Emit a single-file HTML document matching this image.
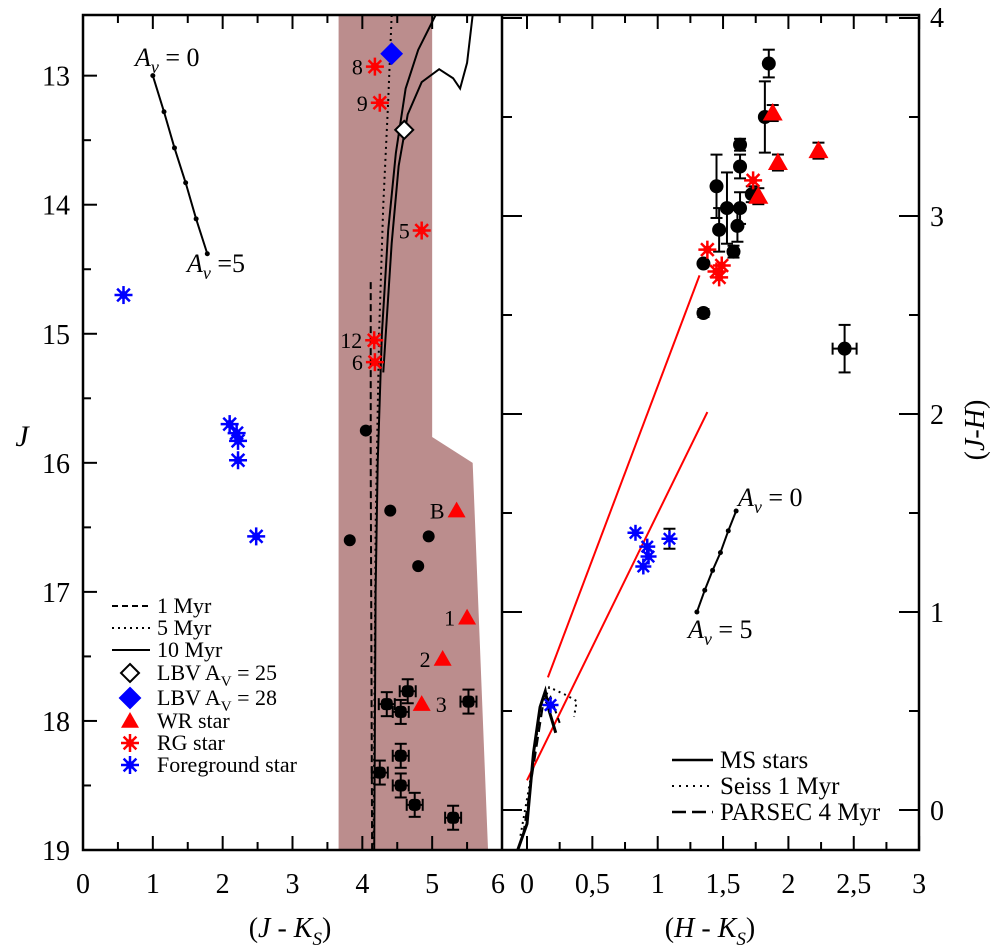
<!DOCTYPE html>
<html><head><meta charset="utf-8"><style>
body{margin:0;background:#fff}
svg{display:block;font-family:"Liberation Serif",serif}
</style></head><body>
<svg id="c" width="999" height="952" viewBox="0 0 999 952" xmlns="http://www.w3.org/2000/svg"></svg>
<script>
// Left panel data (J-Ks, J)
const fgL = [[0.58,14.7],[2.1,15.7],[2.2,15.77],[2.22,15.83],[2.22,15.98],[2.48,16.57]];
const rgL = [[4.18,12.93],[4.25,13.21],[4.85,14.2],[4.17,15.05],[4.18,15.22]];
const rgLabels = ["8","9","5","12","6"];
const wrL = [[5.35,16.37],[5.5,17.2],[5.15,17.52],[4.85,17.87]];
const wrLabels = ["B","1","2","3"];
const dotsL = [[4.05,15.75],[3.82,16.6],[4.4,16.37],[4.95,16.57],[4.8,16.8]];
const errL = [[4.65,17.77],[4.35,17.87],[4.55,17.93],[5.52,17.85],[4.55,18.27],[4.25,18.4],[4.55,18.5],[4.75,18.65],[5.3,18.75]];
const iso1 = [[4.12,14.6],[4.12,16],[4.13,17.5],[4.14,19]];
const iso5 = [[4.42,12.53],[4.37,13.2],[4.3,14],[4.24,15],[4.19,16.5],[4.16,19]];
const iso10a = [[4.17,19],[4.19,17],[4.22,16],[4.28,15],[4.37,14.2],[4.48,13.6],[4.62,13.1],[4.8,12.8],[5.05,12.53]];
const iso10b = [[4.3,15.3],[4.42,14.3],[4.52,13.7],[4.65,13.3],[4.85,13.05],[5.1,12.95],[5.3,13.02],[5.4,13.1],[5.5,12.9],[5.58,12.53]];
const avL = [[1.0,13.0],[1.16,13.28],[1.31,13.56],[1.47,13.83],[1.62,14.11],[1.78,14.38]];
// Right panel data (H-Ks, J-H)
const dotsR = [[1.85,3.77,0.07],[1.82,3.50,0.18],[1.63,3.36,0.03],[1.63,3.25,0.06],[1.45,3.15,0.16],[1.53,3.04,0.18],[1.63,3.04,0.08],[1.61,2.95,0.08],[1.47,2.93,0.11],[1.58,2.82,0.03],[1.35,2.76,0],[1.35,2.51,0.02],[2.43,2.33,0.12],[1.72,3.11,0.04]];
const wrR = [[1.88,3.52],[1.92,3.27],[2.23,3.33],[1.77,3.10]];
const rgR = [[1.73,3.18],[1.38,2.83],[1.45,2.72],[1.49,2.75],[1.47,2.69]];
const fgR = [[0.83,1.40],[0.92,1.33],[0.93,1.28],[0.89,1.23],[1.09,1.37],[0.18,0.53]];
const redLines = [[[0.16,0.67],[1.32,2.70]],[[0.0,0.15],[1.38,2.01]]];
const msLine = [[-0.07,-0.20],[0.0,-0.07],[0.05,0.29],[0.1,0.52],[0.14,0.60],[0.17,0.50],[0.22,0.39]];
const seissLine = [[-0.05,-0.13],[0.02,0.13],[0.1,0.49],[0.17,0.62],[0.3,0.58],[0.38,0.55],[0.36,0.47]];
const parsecLine = [[-0.03,-0.13],[0.04,0.18],[0.12,0.52],[0.18,0.57],[0.25,0.44]];
const avR = [[1.6,1.51],[1.54,1.41],[1.48,1.30],[1.42,1.21],[1.36,1.11],[1.3,1.00]];
const xTicksL = ["0","1","2","3","4","5","6"];
const yTicksL = ["13","14","15","16","17","18","19"];
const xTicksR = ["0","0,5","1","1,5","2","2,5","3"];
const yTicksR = ["0","1","2","3","4"];

const svg = document.getElementById('c');
const NS = "http://www.w3.org/2000/svg";
const L0=83,L1=502,R1=919,T=15,B=850;
const xL = v => L0 + v*(L1-L0)/6;
const yL = v => B - (19-v)*(B-T)/(19-12.53);
const xR = v => 527 + v*130.7;
const yR = v => 810 - v*198;
function el(tag, attrs, parent){const e=document.createElementNS(NS,tag);for(const k in attrs)e.setAttribute(k,attrs[k]);(parent||svg).appendChild(e);return e;}
function txt(x,y,s,size,extra){const t=el('text',Object.assign({x:x,y:y,'font-size':size||26},extra||{}));t.textContent=s;return t;}
function pl(pts,fx,fy,attrs){return el('polyline',Object.assign({points:pts.map(p=>fx(p[0])+','+fy(p[1])).join(' '),fill:'none',stroke:'#000','stroke-width':2},attrs));}
function star(x,y,col,r){const g=el('g',{});for(let i=0;i<4;i++){const a=i*Math.PI/4;el('line',{x1:x-r*Math.cos(a),y1:y-r*Math.sin(a),x2:x+r*Math.cos(a),y2:y+r*Math.sin(a),stroke:col,'stroke-width':2.5},g);}el('circle',{cx:x,cy:y,r:r*0.45,fill:col},g);return g;}
function tri(x,y,r){return el('polygon',{points:`${x},${y-r} ${x-r},${y+r*0.75} ${x+r},${y+r*0.75}`,fill:'#ff0000'});}
function diamond(x,y,r,fill){return el('polygon',{points:`${x},${y-r} ${x+r},${y} ${x},${y+r} ${x-r},${y}`,fill:fill,stroke:fill=='#fff'?'#000':fill,'stroke-width':2});}
function ebar(x,y,dx,dy){const g=el('g',{stroke:'#000','stroke-width':2});if(dy>0){el('line',{x1:x,y1:y-dy,x2:x,y2:y+dy},g);el('line',{x1:x-6,y1:y-dy,x2:x+6,y2:y-dy},g);el('line',{x1:x-6,y1:y+dy,x2:x+6,y2:y+dy},g);}if(dx>0){el('line',{x1:x-dx,y1:y,x2:x+dx,y2:y},g);el('line',{x1:x-dx,y1:y-6,x2:x-dx,y2:y+6},g);el('line',{x1:x+dx,y1:y-6,x2:x+dx,y2:y+6},g);}return g;}

const shade = el('polygon',{points:`${xL(3.66)},${T} ${xL(5.0)},${T} ${xL(5.0)},${yL(15.8)} ${xL(5.58)},${yL(16.0)} ${xL(5.8)},${B} ${xL(3.66)},${B}`,fill:'#bb8d8d'});


el('rect',{x:L0,y:T,width:R1-L0,height:B-T,fill:'none',stroke:'#000','stroke-width':2.5,});
el('line',{x1:L1,y1:T,x2:L1,y2:B,stroke:'#000','stroke-width':2.5,});

for(let v=0;v<=6;v+=0.5){const x=xL(v),len=(v%1==0)?14:8;el('line',{x1:x,y1:B,x2:x,y2:B-len,stroke:'#000','stroke-width':2});el('line',{x1:x,y1:T,x2:x,y2:T+len,stroke:'#000','stroke-width':2});}
xTicksL.forEach((s,i)=>{const t=txt(xL(+s)+(i==6?-4:0),893,s,28,{'text-anchor':'middle'});});
for(let v=12.5;v<=19;v+=0.5){if(v<12.53)continue;const y=yL(v),len=(v%1==0)?14:8;el('line',{x1:L0,y1:y,x2:L0+len,y2:y,stroke:'#000','stroke-width':2});}
yTicksL.forEach(s=>{const t=txt(70,yL(+s)+10,s,28,{'text-anchor':'end'});});
for(let v=0;v<=3.0001;v+=0.25){const x=xR(v),len=(Math.abs(v*2-Math.round(v*2))<1e-6)?14:8;el('line',{x1:x,y1:B,x2:x,y2:B-len,stroke:'#000','stroke-width':2});el('line',{x1:x,y1:T,x2:x,y2:T+len,stroke:'#000','stroke-width':2});}
xTicksR.forEach((s,i)=>{const t=txt(xR(i*0.5),893,s,28,{'text-anchor':'middle'});});
for(let v=0;v<=4;v+=0.5){const y=yR(v),len=(v%1==0)?20:10;el('line',{x1:R1,y1:y,x2:R1-len,y2:y,stroke:'#000','stroke-width':2});el('line',{x1:L1,y1:y,x2:L1+len,y2:y,stroke:'#000','stroke-width':2});}
yTicksR.forEach(s=>{const t=txt(930,yR(+s)+(s=='4'?9:10),s,28);});

let t;
t=txt(290,937,'',28,{'text-anchor':'middle'});t.innerHTML='(<tspan font-style="italic">J</tspan> - <tspan font-style="italic">K</tspan><tspan font-size="19" dy="8" font-style="italic">S</tspan><tspan dy="-8">)</tspan>';
t=txt(710,937,'',28,{'text-anchor':'middle'});t.innerHTML='(<tspan font-style="italic">H</tspan> - <tspan font-style="italic">K</tspan><tspan font-size="19" dy="8" font-style="italic">S</tspan><tspan dy="-8">)</tspan>';
t=txt(22,446,'J',30,{'font-style':'italic','text-anchor':'middle'});
t=txt(0,0,'',28,{'text-anchor':'middle',transform:'translate(984,430) rotate(-90)'});t.innerHTML='(<tspan font-style="italic">J</tspan>-<tspan font-style="italic">H</tspan>)';

let p;
p=pl(iso1,xL,yL,{'stroke-dasharray':'7,4'});
p=pl(iso5,xL,yL,{'stroke-dasharray':'2,4'});
p=pl(iso10a,xL,yL,{});
p=pl(iso10b,xL,yL,{});

p=pl(avL,xL,yL,{'stroke-width':2});
avL.forEach(q=>el('circle',{cx:xL(q[0]),cy:yL(q[1]),r:2.5,fill:'#000'}));
t=txt(135,66,'',26);t.innerHTML='<tspan font-style="italic">A</tspan><tspan font-size="18" dy="7" font-style="italic">v</tspan><tspan dy="-7"> = 0</tspan>';
t=txt(187,272,'',26);t.innerHTML='<tspan font-style="italic">A</tspan><tspan font-size="18" dy="7" font-style="italic">v</tspan><tspan dy="-7"> =5</tspan>';

errL.forEach(q=>{ebar(xL(q[0]),yL(q[1]),8,12);const c=el('rect',{x:xL(q[0])-6,y:yL(q[1])-6,width:12,height:12,rx:4,fill:'#000'});});
dotsL.forEach(q=>{const c=el('circle',{cx:xL(q[0]),cy:yL(q[1]),r:6,fill:'#000'});});
fgL.forEach(q=>{const g=star(xL(q[0]),yL(q[1]),'#0000ff',9);});
rgL.forEach((q,i)=>{const g=star(xL(q[0]),yL(q[1]),'#ff0000',9);txt(xL(q[0])-12,yL(q[1])+8,rgLabels[i],22,{'text-anchor':'end'});});
wrL.forEach((q,i)=>{const g=tri(xL(q[0]),yL(q[1]),9);const dx=i==3?14:-12;txt(xL(q[0])+dx,yL(q[1])+8,wrLabels[i],22,{'text-anchor':i==3?'start':'end'});});
p=diamond(xL(4.6),yL(13.42),9,'#fff');
p=diamond(xL(4.42),yL(12.83),10,'#0000ff');

const lg=el('g',{});
const ly=[606,628,650,673,698,721,743,765];
const lt=['1 Myr','5 Myr','10 Myr','LBV A','LBV A','WR star','RG star','Foreground star'];
el('line',{x1:112,y1:ly[0],x2:150,y2:ly[0],stroke:'#000','stroke-width':2,'stroke-dasharray':'6,4'},lg);
el('line',{x1:112,y1:ly[1],x2:150,y2:ly[1],stroke:'#000','stroke-width':2,'stroke-dasharray':'2,4'},lg);
el('line',{x1:112,y1:ly[2],x2:150,y2:ly[2],stroke:'#000','stroke-width':2},lg);
diamond(130,ly[3],9,'#fff');diamond(130,ly[4],10,'#0000ff');tri(130,ly[5],9);star(130,ly[6],'#ff0000',9);star(130,ly[7],'#0000ff',9);
lt.forEach((s,i)=>{const tt=txt(157,ly[i]+7,'',22,{});
 if(i==3)tt.innerHTML='LBV A<tspan font-size="15" dy="6">V</tspan><tspan dy="-6"> = 25</tspan>';else if(i==4)tt.innerHTML='LBV A<tspan font-size="15" dy="6">V</tspan><tspan dy="-6"> = 28</tspan>';else tt.textContent=s;});

redLines.forEach(l=>{p=pl(l,xR,yR,{stroke:'#ff0000','stroke-width':2});});
p=pl(msLine,xR,yR,{'stroke-width':3});
p=pl(seissLine,xR,yR,{'stroke-dasharray':'2,4'});
p=pl(parsecLine,xR,yR,{'stroke-dasharray':'10,5'});
p=pl(avR,xR,yR,{});
avR.forEach(q=>el('circle',{cx:xR(q[0]),cy:yR(q[1]),r:2.5,fill:'#000'}));
t=txt(738,506,'',26);t.innerHTML='<tspan font-style="italic">A</tspan><tspan font-size="18" dy="7" font-style="italic">v</tspan><tspan dy="-7"> = 0</tspan>';
t=txt(688,638,'',26);t.innerHTML='<tspan font-style="italic">A</tspan><tspan font-size="18" dy="7" font-style="italic">v</tspan><tspan dy="-7"> = 5</tspan>';
dotsR.forEach(q=>{if(q[2]>0)ebar(xR(q[0]),yR(q[1]),q[0]>2.3?12:0,q[2]*198);const c=el('circle',{cx:xR(q[0]),cy:yR(q[1]),r:7,fill:'#000'});});
wrR.forEach(q=>{ebar(xR(q[0]),yR(q[1]),0,8);const g=tri(xR(q[0]),yR(q[1]),10);});
rgR.forEach(q=>{const g=star(xR(q[0]),yR(q[1]),'#ff0000',9);});
fgR.forEach((q,i)=>{if(i==4)ebar(xR(q[0]),yR(q[1]),0,10);const g=star(xR(q[0]),yR(q[1]),'#0000ff',8);});

const rg=el('g',{});
const rly=[760,786,812];
el('line',{x1:672,y1:rly[0],x2:713,y2:rly[0],stroke:'#000','stroke-width':2.5},rg);
el('line',{x1:672,y1:rly[1],x2:713,y2:rly[1],stroke:'#000','stroke-width':2,'stroke-dasharray':'2,5'},rg);
el('line',{x1:672,y1:rly[2],x2:713,y2:rly[2],stroke:'#000','stroke-width':2.5,'stroke-dasharray':'14,6'},rg);
[['MS stars',rly[0]],['Seiss 1 Myr',rly[1]],['PARSEC 4 Myr',rly[2]]].forEach(a=>{const tt=txt(720,a[1]+8,a[0],25);});
</script>
</body></html>
